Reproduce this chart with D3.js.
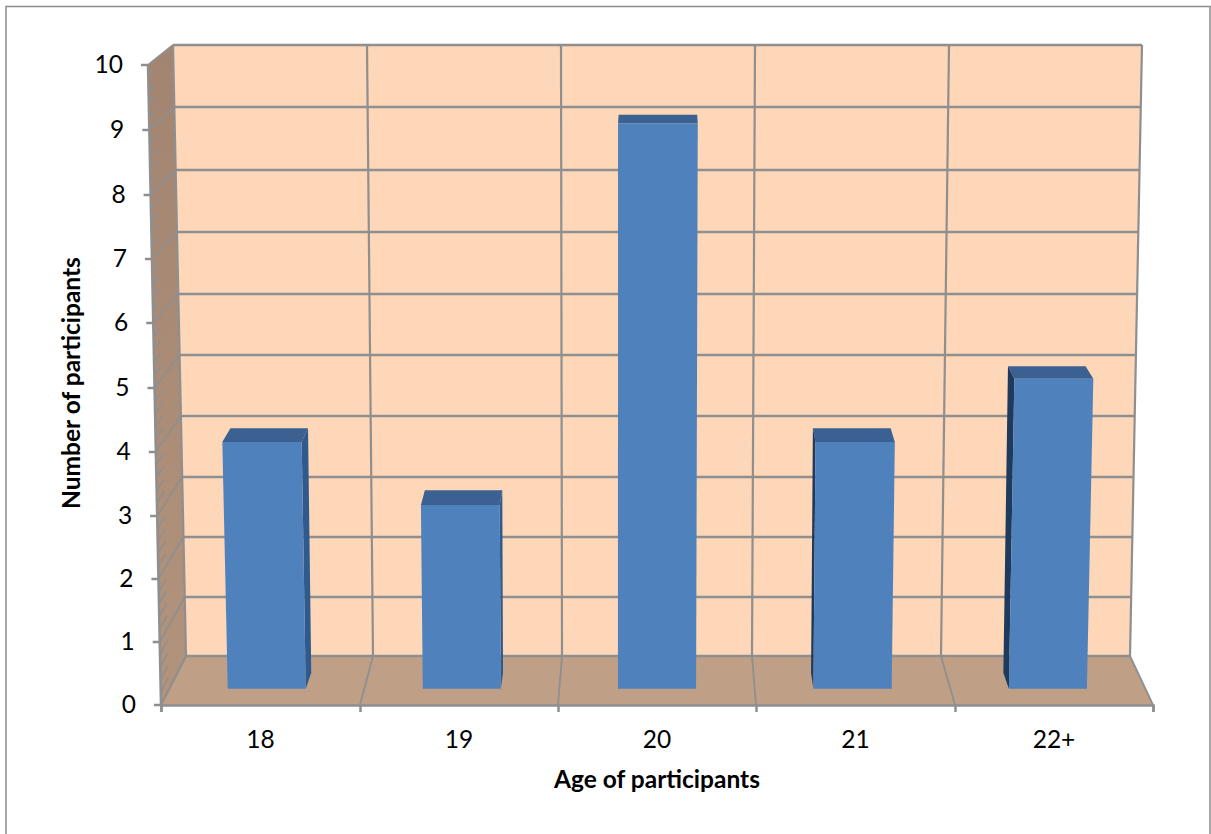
<!DOCTYPE html>
<html>
<head>
<meta charset="utf-8">
<style>
  html, body { margin: 0; padding: 0; background: #fff; }
  svg { display: block; }
  text { font-family: Lato, "Open Sans", sans-serif; fill: #000; }
</style>
<script src="https://cdn.jsdelivr.net/npm/d3@7"></script>
</head>
<body>
<svg id="drawing_region"></svg>
<script>
const categories = ["18", "19", "20", "21", "22+"];
const participants = [4, 3, 9, 4, 5];
const y_ticks = [0, 1, 2, 3, 4, 5, 6, 7, 8, 9, 10];
const x_edges = [0, 1, 2, 3, 4, 5];

const width = 1211;
const height = 834;
const label_size = '24.5px';

const svg = d3.select('#drawing_region')
    .attr('width', width)
    .attr('height', height);

// pixel positions, the 3d box is not evenly spaced
const yfront = d3.scaleLinear().domain(y_ticks)
    .range([705, 642, 579, 516, 452, 388, 323, 259, 195, 130, 65]);
const yback = d3.scaleLinear().domain(y_ticks)
    .range([656, 597, 537, 477, 416, 355, 294, 232, 170, 107, 45]);
const xfront = d3.scaleLinear().domain(x_edges)
    .range([161, 360, 558, 756, 955, 1153]);
const xback = d3.scaleLinear().domain(x_edges)
    .range([186, 373, 562, 752, 941, 1130]);
// how far the verticals lean between value 0 and value 10
const xlean = d3.scaleLinear().domain(x_edges)
    .range([-13, -6, -1, 3, 8, 12]);
const yvalue = d3.scaleLinear().domain([0, 10]).range([0, 1]);

// one point of the box: e = position along x, v = value, t = depth (0 front, 1 back)
function project(e, v, t) {
    const x = xfront(e) + (xback(e) - xfront(e)) * t + xlean(e) * yvalue(v);
    const y = yfront(v) + (yback(v) - yfront(v)) * t;
    return [x, y];
}
const line = d3.line();
const closed = pts => line(pts) + 'Z';

const defs = svg.append('defs');
const wall_grad = defs.append('linearGradient').attr('id', 'wall')
    .attr('x1', 0).attr('y1', 0).attr('x2', 0).attr('y2', 1);
wall_grad.append('stop').attr('offset', 0).attr('stop-color', '#a38470');
wall_grad.append('stop').attr('offset', 1).attr('stop-color', '#b2937c');

// outer frame, its bottom edge is cut off
svg.append('path')
    .attr('d', line([[6, 834], [6, 6.5], [1210, 6.5], [1210, 834]]))
    .attr('fill', 'none')
    .attr('stroke', '#8a8a8a')
    .attr('stroke-width', 1.5);

const chart = svg.append('g');

// walls and floor
chart.append('path')
    .attr('d', closed([project(0, 10, 1), project(5, 10, 1), project(5, 0, 1), project(0, 0, 1)]))
    .attr('fill', '#fdd7b8');
chart.append('path')
    .attr('d', closed([project(0, 10, 0), project(0, 10, 1), project(0, 0, 1), project(0, 0, 0)]))
    .attr('fill', 'url(#wall)');
chart.append('path')
    .attr('d', closed([project(0, 0, 1), project(5, 0, 1), project(5, 0, 0), project(0, 0, 0)]))
    .attr('fill', '#bf9f85');

// gridlines, thinner on the side wall and the floor
const grid = chart.append('g')
    .attr('fill', 'none')
    .attr('stroke', '#8f8f8f');
grid.selectAll('.hgrid').data(y_ticks).enter()
    .append('path')
    .attr('class', 'hgrid')
    .attr('stroke-width', 2.6)
    .attr('d', d => line([project(0, d, 1), project(5, d, 1)]));
grid.selectAll('.vgrid').data(x_edges).enter()
    .append('path')
    .attr('class', 'vgrid')
    .attr('stroke-width', 2.2)
    .attr('d', d => line([project(d, 0, 1), project(d, 10, 1)]));
grid.selectAll('.sgrid').data(y_ticks).enter()
    .append('path')
    .attr('class', 'sgrid')
    .attr('stroke-width', 1.8)
    .attr('d', d => line([project(0, d, 0), project(0, d, 1)]));
grid.selectAll('.fgrid').data(x_edges).enter()
    .append('path')
    .attr('class', 'fgrid')
    .attr('stroke-width', 1.8)
    .attr('d', d => line([project(d, 0, 0), project(d, 0, 1)]));

// bars, a face is 30% to 70% of the band wide and about 1/3 to 2/3 of the box deep
const bar_l = 0.3, bar_r = 0.7, bar_f = 0.33, bar_ft = 0.28, bar_b = 0.66;
const bars = chart.selectAll('.bar').data(participants).enter()
    .append('g')
    .attr('class', 'bar');

bars.append('path')
    .attr('d', (d, i) => closed([project(i + bar_l, d, bar_b), project(i + bar_r, d, bar_b),
                                 project(i + bar_r, d, bar_ft), project(i + bar_l, d, bar_ft)]))
    .attr('fill', '#3a6192');
// right side shows for bars left of the middle, left side for bars right of it
bars.filter((d, i) => i < 2).append('path')
    .attr('d', function(d) {
        const i = participants.indexOf(d);
        return closed([project(i + bar_r, d, bar_ft), project(i + bar_r, d, bar_b),
                       project(i + bar_r, 0, bar_b), project(i + bar_r, 0, bar_f)]);
    })
    .attr('fill', '#2f5a8e');
bars.filter((d, i) => i > 2).append('path')
    .attr('d', function(d) {
        const i = participants.lastIndexOf(d);
        return closed([project(i + bar_l, d, bar_b), project(i + bar_l, d, bar_ft),
                       project(i + bar_l, 0, bar_f), project(i + bar_l, 0, bar_b)]);
    })
    .attr('fill', '#1e3a5c');
bars.append('path')
    .attr('d', (d, i) => closed([project(i + bar_l, d, bar_ft), project(i + bar_r, d, bar_ft),
                                 project(i + bar_r, 0, bar_f), project(i + bar_l, 0, bar_f)]))
    .attr('fill', '#4f81bd');

// small ticks running into the side wall
const minor_ticks = d3.range(0, 50).map(d => d / 5).filter(d => d % 1 !== 0);
chart.append('g').selectAll('path').data(minor_ticks).enter()
    .append('path')
    .attr('d', d => line([project(0, d, 0), project(0, d, 0.3)]))
    .attr('fill', 'none')
    .attr('stroke', '#8f8f8f')
    .attr('stroke-width', 1.5);

// y axis, each tick moved onto the slanted front edge
const yaxis = d3.axisLeft(yfront)
    .tickValues(y_ticks)
    .tickFormat(d3.format('d'))
    .tickSizeOuter(0)
    .tickSize(7)
    .tickPadding(18);
const yaxis_group = chart.append('g').call(yaxis);
yaxis_group.select('.domain')
    .attr('d', line([project(0, 0, 0), project(0, 10, 0)]));
yaxis_group.selectAll('.tick')
    .attr('transform', d => `translate(${project(0, d, 0)[0]}, ${yfront(d)})`);

// x axis, ticks sit on the band edges
const xaxis = d3.axisBottom(xfront)
    .tickValues(x_edges)
    .tickFormat('')
    .tickSizeOuter(0)
    .tickSize(7);
const xaxis_group = chart.append('g')
    .attr('transform', `translate(0, ${yfront(0)})`)
    .call(xaxis);

for (const g of [yaxis_group, xaxis_group]) {
    g.attr('font-family', null).attr('font-size', null);
    g.selectAll('.domain, line')
        .attr('stroke', '#8f8f8f')
        .attr('stroke-width', 2.5);
    g.selectAll('text')
        .style('font-size', label_size)
        .style('fill', '#000');
}

chart.selectAll('.cat').data(categories).enter()
    .append('text')
    .attr('class', 'cat')
    .attr('x', (d, i) => xfront(i + 0.5))
    .attr('y', 748)
    .attr('text-anchor', 'middle')
    .style('font-size', label_size)
    .text(d => d);

// axis titles
svg.append('text')
    .attr('x', 657)
    .attr('y', 788)
    .attr('text-anchor', 'middle')
    .style('font-size', label_size)
    .style('font-weight', 'bold')
    .text('Age of participants');

svg.append('text')
    .attr('transform', 'translate(80, 383) rotate(-90)')
    .attr('text-anchor', 'middle')
    .style('font-size', label_size)
    .style('font-weight', 'bold')
    .text('Number of participants');
</script>
</body>
</html>
